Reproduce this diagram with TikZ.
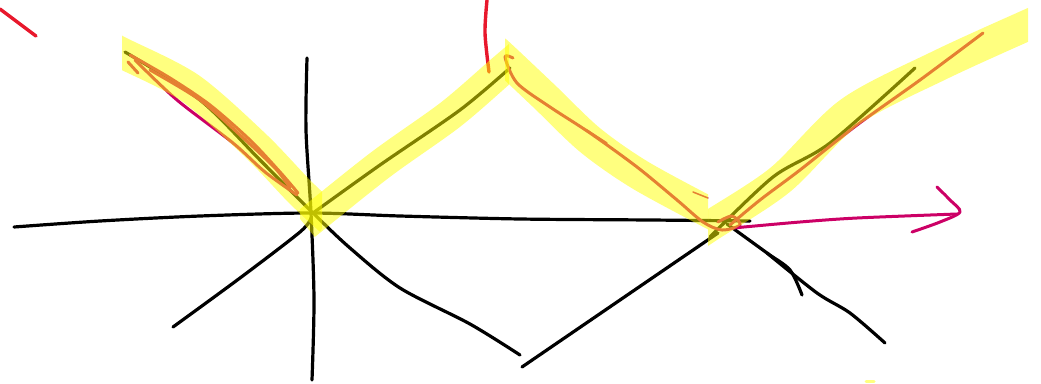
\documentclass[tikz,border=0pt]{standalone}
\definecolor{mag}{RGB}{204,0,102}
\definecolor{redink}{RGB}{232,24,44}
\definecolor{hl}{RGB}{255,255,0}
\begin{document}
\begin{tikzpicture}[x=1pt,y=-1pt, line cap=round, line join=round,
  pen/.style={draw=black, line width=3.2pt},
  mpen/.style={draw=mag, line width=3pt},
  rpen/.style={draw=redink, line width=3.4pt},
  hlt/.style={draw=hl, draw opacity=0.5, line width=31pt, line cap=butt}]
\useasboundingbox (0,0) rectangle (1041,383);
% black ink
\draw[pen] plot[smooth] coordinates {(14,227) (100,221) (200,216) (310,213) (400,216) (520,219) (650,220) (750,221)};
\draw[pen] plot[smooth] coordinates {(307,58) (306,130) (311,213) (314,300) (312,380)};
\draw[pen] plot[smooth] coordinates {(125,52) (200,100) (260,160) (313,213) (350,248) (400,288) (470,324) (520,355)};
\draw[pen] plot[smooth] coordinates {(173,327) (240,278) (300,232) (311,218)};
\draw[pen] plot[smooth] coordinates {(313,213) (380,165) (460,110) (510,68)};
\draw[pen] plot[smooth] coordinates {(522,367) (620,300) (718,233)};
\draw[pen] plot[smooth] coordinates {(710,237) (773,177) (830,143) (915,68)};
\draw[pen] plot[smooth] coordinates {(727,224) (767,253) (790,270) (802,295)};
\draw[pen] plot[smooth] coordinates {(767,253) (817,293) (850,313) (885,343)};
% magenta ink
\draw[mpen] plot[smooth] coordinates {(130,55) (170,78) (210,105) (250,140) (280,172) (298,193)};
\draw[mpen] plot[smooth] coordinates {(135,60) (177,100) (233,143) (265,172) (297,195)};
\draw[mpen] plot[smooth] coordinates {(150,70) (200,100) (240,135) (275,168) (290,188)};
\draw[mpen] (128,62) -- (138,73);
\draw[mpen] plot[smooth] coordinates {(513,58) (505,57) (517,83) (550,107) (590,133) (637,167) (677,200) (703,222) (722,230) (740,225) (732,216) (718,222)};
\draw[mpen] plot[smooth] coordinates {(730,225) (760,200) (800,170) (857,125) (920,80) (983,33)};
\draw[mpen, line width=1.5pt] (693,192) -- (708,198);
\draw[mpen, line width=1.5pt] (587,130) -- (607,143);
\draw[mpen] plot[smooth] coordinates {(733,228) (800,222) (857,218) (957,214)};
\draw[mpen] plot[smooth] coordinates {(937,187) (950,200) (960,212) (940,222) (912,232)};
% red ink
\draw[rpen] (0,9) -- (36,36);
\draw[rpen] plot[smooth] coordinates {(487,0) (485,33) (489,72)};
% highlighter
\begin{scope}
  \clip (122,0) rectangle (322,383);
  \draw[hlt] plot[smooth] coordinates {(100,42) (122,53) (190,88) (255,145) (300,192) (330,220)};
\end{scope}
\begin{scope}
  \clip (300,0) rectangle (509,383);
  \draw[hlt] plot[smooth] coordinates {(305,225) (380,165) (450,115) (500,72) (520,55)};
\end{scope}
\begin{scope}
  \clip (505,0) rectangle (708,383);
  \draw[hlt] plot[smooth] coordinates {(495,50) (508,62) (545,97) (590,140) (640,175) (712,214) (725,220)};
\end{scope}
\begin{scope}
  \clip (708,0) rectangle (1028,383);
  \draw[hlt] plot[smooth] coordinates {(695,236) (710,226) (780,180) (850,112) (940,65) (1030,24) (1045,18)};
\end{scope}
\draw[draw=hl, draw opacity=0.5, line width=3pt] (866,381) -- (874,381);
\end{tikzpicture}
\end{document}
